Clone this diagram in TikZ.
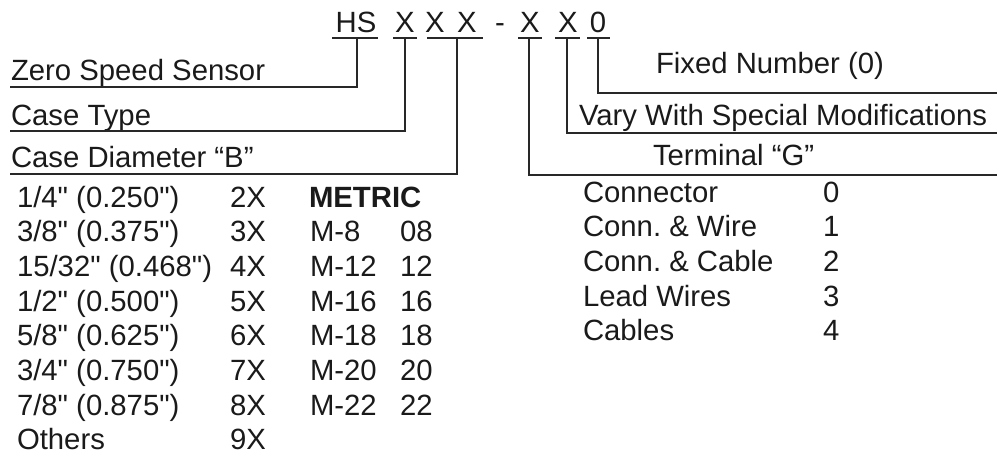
\documentclass[tikz,border=0pt]{standalone}
\usepackage{fontspec}
\setmainfont{Liberation Sans}[Ligatures=TeXOff]
\usepackage{tikz}
\usetikzlibrary{calc}
\definecolor{ink}{RGB}{26,26,26}
\definecolor{leader}{RGB}{40,40,40}

\begin{document}
\begin{tikzpicture}[x=1pt, y=-1pt, line width=2pt]
  \tikzstyle{txt}=[anchor=base west, inner sep=0pt, text=ink, font=\fontsize{29.3}{35}\selectfont]
  \tikzstyle{code}=[txt, anchor=base]
  \tikzstyle{lead}=[draw=leader, line width=2.2pt]
  \useasboundingbox (0,0) rectangle (997,456);

  % part number
  \node[code] (hs) at (356,32) {HS};
  \node[code] (xa) at (405,32) {X};
  \node[code] (xb) at (435,32) {X};
  \node[code] (xc) at (467,32) {X};
  \node[code] (dash) at (500,32) {-};
  \node[code] (xd) at (530,32) {X};
  \node[code] (xe) at (568,32) {X};
  \node[code] (zero) at (598,32) {0};

  % underlines of the digits
  \draw[lead] (332,38) -- (378,38);
  \draw[lead] (393,38) -- (417,38);
  \draw[lead] (427,38) -- (483,38);
  \draw[lead] (518,38) -- (542,38);
  \draw[lead] (555,38) -- (580,38);
  \draw[lead] (587,38) -- (610,38);
  \coordinate (hsT) at (357,38);
  \coordinate (typeT) at (405,38);
  \coordinate (diaT) at (457,38);
  \coordinate (termT) at (529,38);
  \coordinate (varyT) at (567,38);
  \coordinate (zeroT) at (598,38);

  % labels
  \node[txt] (zss) at (10,80) {Zero Speed Sensor};
  \node[txt] (ctype) at (10,125) {Case Type};
  \node[txt] (cdia) at (10,167) {Case Diameter “B”};
  \node[txt] (fixed) at (655,73) {Fixed Number (0)};
  \node[txt] (vary) at (578,125) {Vary With Special Modifications};
  \node[txt] (term) at (652,165) {Terminal “G”};
  \coordinate (zssEnd) at (10,87);
  \coordinate (ctypeEnd) at (10,131);
  \coordinate (cdiaEnd) at (10,174);
  \coordinate (fixedEnd) at (997,93);
  \coordinate (varyEnd) at (997,133);
  \coordinate (termEnd) at (997,175);

  \draw[lead] (hsT) |- (zssEnd);
  \draw[lead] (typeT) |- (ctypeEnd);
  \draw[lead] (diaT) |- (cdiaEnd);
  \draw[lead] (zeroT) |- (fixedEnd);
  \draw[lead] (varyT) |- (varyEnd);
  \draw[lead] (termT) |- (termEnd);

  % case diameters
  \foreach \sz/\cd [count=\i from 0] in {{1/4" (0.250")}/2X, {3/8" (0.375")}/3X,
      {15/32" (0.468")}/4X, {1/2" (0.500")}/5X, {5/8" (0.625")}/6X,
      {3/4" (0.750")}/7X, {7/8" (0.875")}/8X, Others/9X}{
    \node[txt] (size\i) at (16,{207+34.7*\i}) {\sz};
    \node[txt] (dcode\i) at (229,{207+34.7*\i}) {\cd};
  }
  \node[txt, font=\fontsize{29.3}{35}\selectfont\bfseries] (metric) at (308,207) {METRIC};
  \foreach \mm/\cd [count=\i] in {M-8/08, M-12/12, M-16/16, M-18/18, M-20/20, M-22/22}{
    \node[txt] (mm\i) at (309,{207+34.7*\i}) {\mm};
    \node[txt] (mcode\i) at (399,{207+34.7*\i}) {\cd};
  }

  % terminals
  \foreach \tm/\cd [count=\i from 0] in {Connector/0, Conn.\ \& Wire/1, Conn.\ \& Cable/2, Lead Wires/3, Cables/4}{
    \node[txt] (tm\i) at (582,{202+34.7*\i}) {\tm};
    \node[txt] (tcode\i) at (822,{202+34.7*\i}) {\cd};
  }
\end{tikzpicture}
\end{document}
